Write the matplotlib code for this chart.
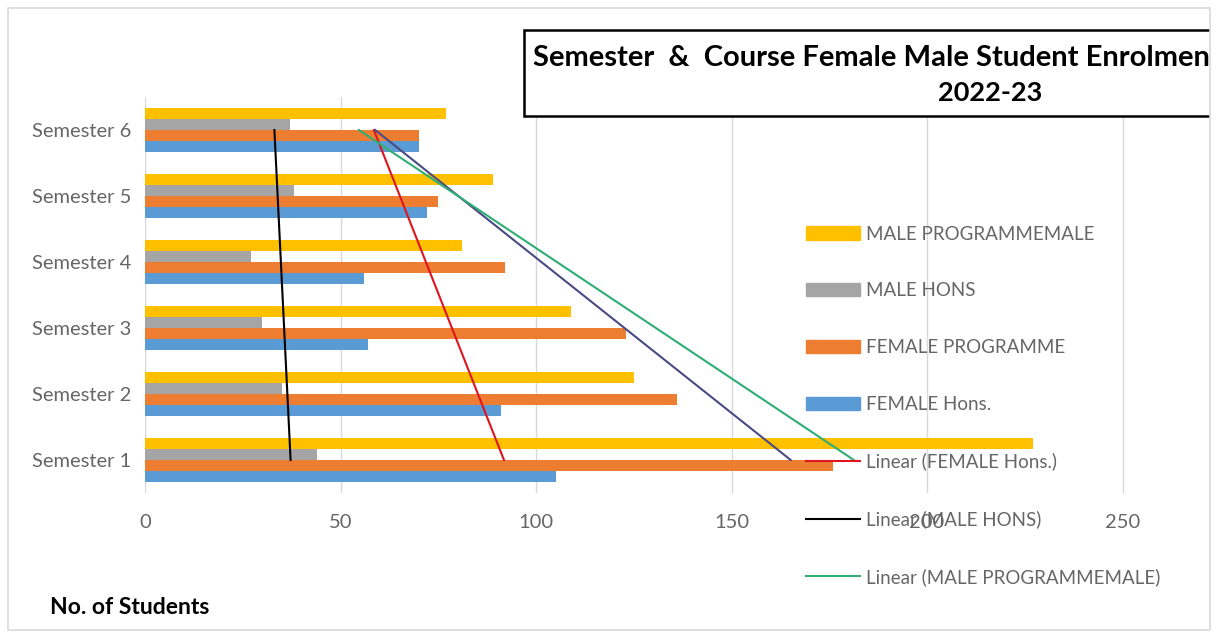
import numpy as np
import matplotlib.pyplot as plt
from matplotlib.patches import Rectangle, Patch
from matplotlib.lines import Line2D
from matplotlib.transforms import Bbox, TransformedBbox

plt.rcParams['font.family'] = ['Lato', 'DejaVu Sans']

semesters = ["Semester 1", "Semester 2", "Semester 3", "Semester 4", "Semester 5", "Semester 6"]
male_programme = [227, 125, 109, 81, 89, 77]
male_hons = [44, 35, 30, 27, 38, 37]
female_programme = [176, 136, 123, 92, 75, 70]
female_hons = [105, 91, 57, 56, 72, 70]
x_ticks = [0, 50, 100, 150, 200, 250]

W, H = 1217, 633
fig = plt.figure(figsize=(W / 100, H / 100), dpi=100)

# light chart frame
fig.patches.append(Rectangle((8 / W, 3 / H), 1202 / W, 622 / H, transform=fig.transFigure,
                             fill=False, edgecolor='#d9d9d9', linewidth=1.2, zorder=7))

ax = fig.add_axes([145 / W, 140 / H, (1210 - 145) / W, 396 / H])
ax.set_xlim(0, (1210 - 145) / 3.91)
ax.set_ylim(0.5, 6.5)

pos = np.arange(1, 7)
h = 0.17
ax.barh(pos + 1.5 * h, male_programme, height=h, color='#ffc000', zorder=2)
ax.barh(pos + 0.5 * h, male_hons, height=h, color='#a5a5a5', zorder=2)
ax.barh(pos - 0.5 * h, female_programme, height=h, color='#ed7d31', zorder=2)
ax.barh(pos - 1.5 * h, female_hons, height=h, color='#5b9bd5', zorder=2)

# Linear trendlines (category index vs value), as Excel draws them
def trend(vals):
    b, a = np.polyfit(pos, vals, 1)
    return a + b * pos

ax.plot(trend(female_hons), pos, color='#e0141e', lw=1.5, zorder=3)
ax.plot(trend(male_hons), pos, color='black', lw=1.5, zorder=3)
ax.plot(trend(female_programme), pos, color='#4a4a86', lw=1.5, zorder=3)
ax.plot(trend(male_programme), pos, color='#2fae74', lw=1.5, zorder=3)

ax.set_xticks(x_ticks)
ax.set_yticks(pos)
ax.set_yticklabels(semesters)
ax.grid(axis='x', color='#d9d9d9', lw=1, zorder=0)
ax.tick_params(length=0, labelsize=14.5, labelcolor='#666666')
ax.tick_params(axis='x', pad=15)
ax.tick_params(axis='y', pad=10)
for s in ax.spines.values():
    s.set_visible(False)

# title box, cut off by the chart frame on the right
clip = TransformedBbox(Bbox.from_extents(0, 0, 1210 / W, 1), fig.transFigure)
box = Rectangle((524 / W, 1 - 116 / H), 1000 / W, 86 / H, transform=fig.transFigure,
                facecolor='white', edgecolor='black', linewidth=1.8, zorder=5)
box.set_clip_box(clip)
fig.patches.append(box)
t1 = fig.text(533 / W, 1 - 58 / H, "Semester  &  Course Female Male Student Enrolment", ha='left', va='center',
              fontsize=21, fontweight='bold', zorder=6)
t2 = fig.text(990 / W, 1 - 93 / H, "2022-23", ha='center', va='center', fontsize=19.5, fontweight='bold', zorder=6)
for t in (t1, t2):
    t.set_clip_box(clip)
    t.set_clip_on(True)

fig.text(50 / W, 1 - 607 / H, "No. of Students", ha='left', va='center', fontsize=16.5, fontweight='bold')

handles = [
    Patch(color='#ffc000', label='MALE PROGRAMMEMALE'),
    Patch(color='#a5a5a5', label='MALE HONS'),
    Patch(color='#ed7d31', label='FEMALE PROGRAMME'),
    Patch(color='#5b9bd5', label='FEMALE Hons.'),
    Line2D([], [], color='#e0141e', lw=1.5, label='Linear (FEMALE Hons.)'),
    Line2D([], [], color='black', lw=1.5, label='Linear (MALE HONS)'),
    Line2D([], [], color='#2fae74', lw=1.5, label='Linear (MALE PROGRAMMEMALE)'),
]
leg = fig.legend(handles=handles, loc='upper left', bbox_to_anchor=(798 / W, 1 - 218 / H),
                 frameon=False, fontsize=13.5, handlelength=2.9, labelspacing=2.12, handletextpad=0.3,
                 borderaxespad=0)
for t in leg.get_texts():
    t.set_color('#666666')

fig.savefig('out.png', dpi=100)
